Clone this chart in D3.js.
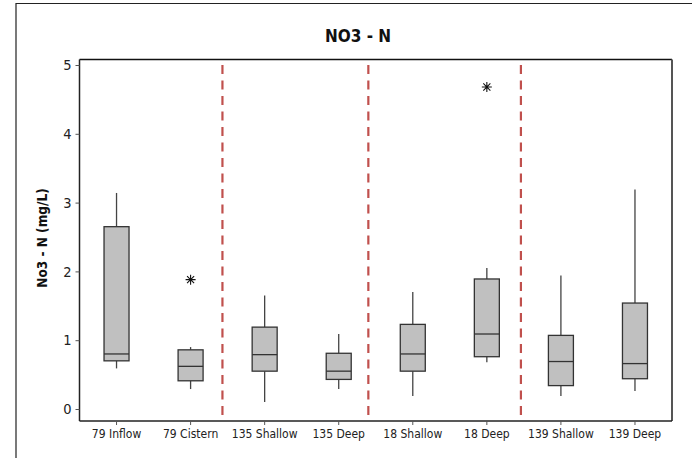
<!DOCTYPE html>
<html><head><meta charset="utf-8">
<script src="https://cdn.jsdelivr.net/npm/d3@7"></script>
<style>body{margin:0;background:#fff;} svg{display:block;}</style>
</head><body><svg id="c" width="692" height="458"></svg>
<script>
const categories = ["79 Inflow","79 Cistern","135 Shallow","135 Deep","18 Shallow","18 Deep","139 Shallow","139 Deep"];
const whiskerLow  = [0.59, 0.29, 0.10, 0.29, 0.19, 0.68, 0.19, 0.26];
const q1          = [0.70, 0.41, 0.55, 0.43, 0.55, 0.76, 0.34, 0.44];
const median      = [0.80, 0.62, 0.79, 0.55, 0.80, 1.09, 0.69, 0.66];
const q3          = [2.65, 0.86, 1.19, 0.81, 1.23, 1.89, 1.07, 1.54];
const whiskerHigh = [3.14, 0.90, 1.65, 1.09, 1.70, 2.05, 1.94, 3.19];
const outlierCat  = ["79 Cistern", "18 Deep"];
const outlierVal  = [1.88, 4.68];
const dividerPos  = [2.43, 4.40, 6.46]; // in category-index units (1-based)
const yTicks = [0,1,2,3,4,5];
const title = "NO3 - N";
const yTitle = "No3 - N (mg/L)";

const svg = d3.select("#c");
const L = 79.5, R = 672, T = 59.5, B = 421;
const font = "Tahoma, 'DejaVu Sans Condensed', 'Noto Sans', sans-serif";

// outer frame
svg.append("path").attr("d","M16,470 V3.5 H700").attr("fill","none").attr("stroke","#222").attr("stroke-width",1.2);

const x = d3.scaleBand().domain(categories).range([L, R]).padding(0);
const y = d3.scaleLinear().domain([0,5]).range([409, 65]);
const xi = d3.scaleLinear().domain([1, categories.length]).range([x(categories[0])+x.bandwidth()/2, x(categories[categories.length-1])+x.bandwidth()/2]);

// plot frame
svg.append("line").attr("x1",L).attr("x2",R).attr("y1",T).attr("y2",T).attr("stroke","#111").attr("stroke-width",1.5);
svg.append("line").attr("x1",R).attr("x2",R).attr("y1",T).attr("y2",B).attr("stroke","#555").attr("stroke-width",2);

// dividers
svg.selectAll(".div").data(dividerPos).join("line")
  .attr("x1",d=>xi(d)).attr("x2",d=>xi(d)).attr("y1",65).attr("y2",B)
  .attr("stroke","#c0504d").attr("stroke-width",2.2).attr("stroke-dasharray","9,6.5");

// axes
const ya = svg.append("g").attr("transform",`translate(${L},0)`)
  .call(d3.axisLeft(y).tickValues(yTicks).tickSize(4).tickPadding(4).tickFormat(d3.format("d")));
ya.select(".domain").attr("d",`M0,${T}V${B}`).attr("stroke","#222").attr("stroke-width",1.5);
ya.selectAll("text").attr("font-family",font).attr("font-size",14.5).attr("fill","#222");
ya.selectAll(".tick line").attr("stroke","#555");

const xa = svg.append("g").attr("transform",`translate(0,${B})`)
  .call(d3.axisBottom(x).tickSize(4).tickPadding(4));
xa.select(".domain").attr("d",`M${L},0H${R}`).attr("stroke","#222").attr("stroke-width",1.5);
xa.selectAll("text").attr("font-family",font).attr("font-size",12).attr("fill","#222");
xa.selectAll(".tick line").attr("stroke","#555");

// boxes
const data = categories.map((c,i)=>({c, lo:whiskerLow[i], q1:q1[i], med:median[i], q3:q3[i], hi:whiskerHigh[i]}));
const bw = 25;
const g = svg.selectAll(".box").data(data).join("g").attr("transform",d=>`translate(${x(d.c)+x.bandwidth()/2},0)`);
g.append("line").attr("x1",0).attr("x2",0).attr("y1",d=>y(d.hi)).attr("y2",d=>y(d.q3)).attr("stroke","#444").attr("stroke-width",1.3);
g.append("line").attr("x1",0).attr("x2",0).attr("y1",d=>y(d.q1)).attr("y2",d=>y(d.lo)).attr("stroke","#444").attr("stroke-width",1.3);
g.append("rect").attr("x",-bw/2).attr("width",bw).attr("y",d=>y(d.q3)).attr("height",d=>y(d.q1)-y(d.q3))
  .attr("fill","#c0c0c0").attr("stroke","#333").attr("stroke-width",1.3);
g.append("line").attr("x1",-bw/2).attr("x2",bw/2).attr("y1",d=>y(d.med)).attr("y2",d=>y(d.med)).attr("stroke","#333").attr("stroke-width",1.3);

// outliers (asterisk)
const ast = {draw(ctx,size){const r=Math.sqrt(size)/2;for(let a=0;a<4;a++){const t=a*Math.PI/4;ctx.moveTo(-r*Math.cos(t),-r*Math.sin(t));ctx.lineTo(r*Math.cos(t),r*Math.sin(t));}}};
svg.selectAll(".out").data(outlierCat.map((c,i)=>({c,v:outlierVal[i]}))).join("path")
  .attr("transform",d=>`translate(${x(d.c)+x.bandwidth()/2},${y(d.v)})`)
  .attr("d",d3.symbol(ast,100)()).attr("stroke","#111").attr("stroke-width",1.1).attr("fill","none");

// titles
svg.append("text").attr("x",358).attr("y",42).attr("text-anchor","middle")
  .attr("font-family",font).attr("font-weight","bold").attr("font-size",17).attr("fill","#111").text(title);
svg.append("text").attr("transform","translate(47,238) rotate(-90)").attr("text-anchor","middle")
  .attr("font-family",font).attr("font-weight","bold").attr("font-size",13.5).attr("fill","#111").text(yTitle);
</script></body></html>
